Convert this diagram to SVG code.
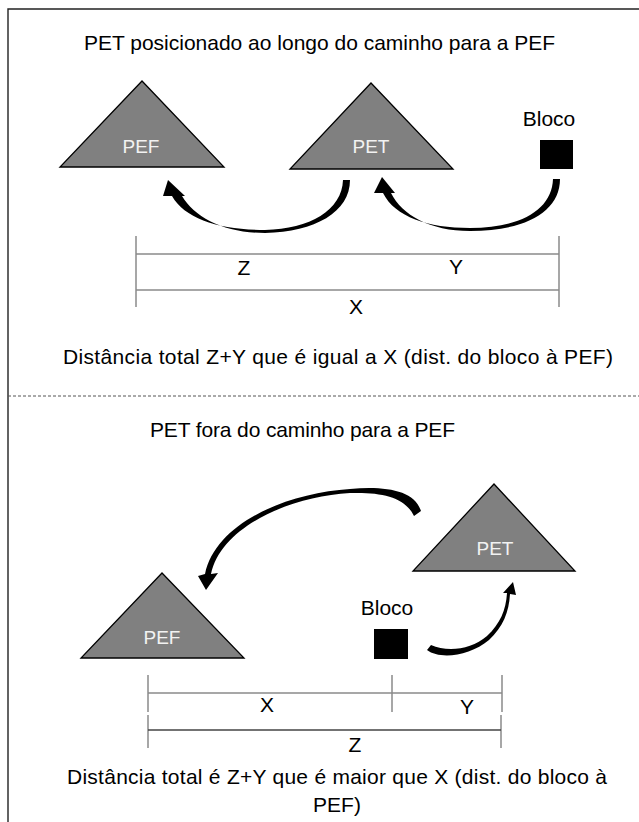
<svg xmlns="http://www.w3.org/2000/svg" width="639" height="822" viewBox="0 0 639 822">
<style>
  text { font-family: "Liberation Sans", Arial, sans-serif; fill: #000; }
  .t { font-size: 21px; }
  .lbl { font-size: 19px; fill: #f2f2f2; text-anchor: middle; }
  .tri { fill: #808080; stroke: #000; stroke-width: 1.3; stroke-linejoin: miter; }
  .blk { fill: #000; }
  .dim { stroke: #8a8a8a; stroke-width: 1.5; fill: none; }
  .dimd { stroke: #444; stroke-width: 1.3; fill: none; }
  .arr { fill: #000; stroke: none; }
  .mid { text-anchor: middle; }
</style>
<rect x="0" y="0" width="639" height="822" fill="#fff"/>
<!-- frame -->
<path d="M8,822 V9 H639" fill="none" stroke="#222" stroke-width="1.4"/>
<line x1="8" y1="396" x2="639" y2="396" stroke="#555" stroke-width="1" stroke-dasharray="3,2"/>

<!-- titles and captions -->
<text class="t" x="84" y="50" textLength="471" lengthAdjust="spacing">PET posicionado ao longo do caminho para a PEF</text>
<text class="t" x="63" y="364" textLength="550" lengthAdjust="spacing">Distância total Z+Y que é igual a X (dist. do bloco à PEF)</text>
<text class="t" x="150" y="437" textLength="305" lengthAdjust="spacing">PET fora do caminho para a PEF</text>
<text class="t" x="67" y="784" textLength="540" lengthAdjust="spacing">Distância total é Z+Y que é maior que X (dist. do bloco à</text>
<text class="t mid" x="337" y="812">PEF)</text>

<!-- top scenario nodes -->
<g id="pef-top">
  <polygon class="tri" points="142,81 60,167 224,167"/>
  <text class="lbl" x="141" y="153">PEF</text>
</g>
<g id="pet-top">
  <polygon class="tri" points="371,83 290,169 453,169"/>
  <text class="lbl" x="371" y="153">PET</text>
</g>
<g id="bloco-top">
  <text class="t mid" x="549" y="126">Bloco</text>
  <rect class="blk" x="540" y="140" width="33" height="29"/>
</g>

<!-- bottom scenario nodes -->
<g id="pet-bottom">
  <polygon class="tri" points="494,484 413,571 575,571"/>
  <text class="lbl" x="495" y="555">PET</text>
</g>
<g id="pef-bottom">
  <polygon class="tri" points="162,573 81,658 244,658"/>
  <text class="lbl" x="162" y="644">PEF</text>
</g>
<g id="bloco-bottom">
  <text class="t mid" x="387" y="615">Bloco</text>
  <rect class="blk" x="374" y="629" width="34" height="30"/>
</g>

<!-- connectors -->
<g id="connectors">
  <!-- top: PET -> PEF -->
  <path class="arr" d="M343,180 L350,180 C350,212 315,232 265,233 C225,233 195,218 182,196 L185,196 L168,180 L163,196 L172,196 C185,219 220,230 265,230 C310,229 342,210 343,180 Z"/>
  <!-- top: Bloco -> PET -->
  <path class="arr" d="M553,179 L560,179 C560,212 525,231 470,231 C430,231 402,215 391,193 L395,193 L382,177 L374,193 L383,193 C395,217 428,228 470,228 C520,228 552,210 553,179 Z"/>
  <!-- bottom: PET -> PEF -->
  <path class="arr" d="M421,511 C414,490 385,486 350,489 C288,493 216,522 205,574 L198,576 L206,590 L218,573 L211,574 C221,527 288,497 350,493 C382,492 405,497 414,516 Z"/>
  <!-- bottom: Bloco -> PET -->
  <path class="arr" d="M427,650 C440,660 470,656 489,640 C503,627 509,612 510,594 L516,595 L513,582 L503,593 L507,593 C506,610 500,624 487,636 C471,650 447,652 431,645 Z"/>
</g>

<!-- dimension lines top -->
<g id="dims-top">
  <line class="dim" x1="136" y1="236" x2="136" y2="307"/>
  <line class="dim" x1="559" y1="236" x2="559" y2="307"/>
  <line class="dim" x1="136" y1="254" x2="559" y2="254"/>
  <line class="dim" x1="136" y1="290" x2="559" y2="290"/>
  <text class="t mid" x="244" y="275">Z</text>
  <text class="t mid" x="456" y="274">Y</text>
  <text class="t mid" x="356" y="314">X</text>
</g>

<!-- dimension lines bottom -->
<g id="dims-bottom">
  <line class="dim" x1="148" y1="675" x2="148" y2="712"/>
  <line class="dim" x1="148" y1="715" x2="148" y2="748"/>
  <line class="dim" x1="392" y1="675" x2="392" y2="712"/>
  <line class="dim" x1="502" y1="675" x2="502" y2="712"/>
  <line class="dim" x1="501" y1="715" x2="501" y2="748"/>
  <line class="dim" x1="148" y1="693" x2="502" y2="693"/>
  <line class="dimd" x1="148" y1="730" x2="501" y2="730"/>
  <text class="t mid" x="267" y="712">X</text>
  <text class="t mid" x="467" y="714">Y</text>
  <text class="t mid" x="355" y="752">Z</text>
</g>
</svg>
